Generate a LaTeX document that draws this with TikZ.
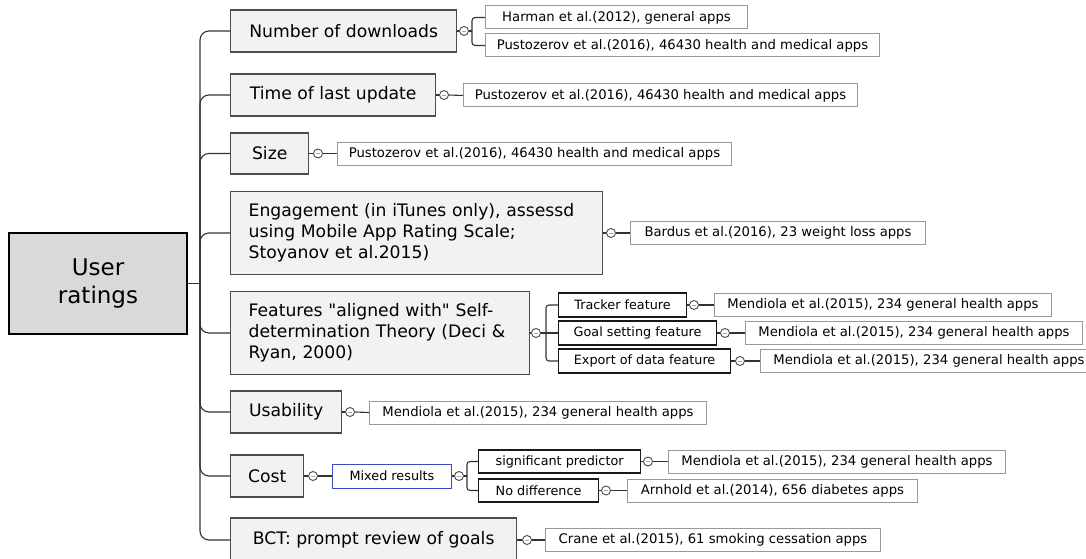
\documentclass[tikz,border=0pt]{standalone}
\usepackage{fontspec}
\setmainfont{DejaVu Sans}[Ligatures=TeXOff]
\definecolor{mixblue}{RGB}{60,72,190}
\definecolor{knobdash}{RGB}{150,165,200}
\begin{document}
\begin{tikzpicture}[x=1pt,y=-1pt]
\tikzset{
  rootbox/.style={draw=black, line width=2pt, fill=black!15, anchor=west,
    minimum width=178pt, minimum height=101pt, inner sep=0pt, align=center,
    font=\fontsize{23}{28}\selectfont},
  lvl/.style={draw=black!70, line width=1.4pt, fill=black!5, anchor=west,
    minimum height=42pt, inner xsep=0pt, inner ysep=0pt,
    font=\fontsize{17.2}{21}\selectfont},
  lvlwide/.style={lvl, inner xsep=18pt, align=left},
  src/.style={draw=black!40, line width=1pt, fill=white, anchor=west,
    minimum height=23pt, inner sep=0pt, font=\fontsize{13.2}{16}\selectfont},
  subbox/.style={draw=black!90, line width=1.2pt, fill=white, anchor=west,
    minimum height=24pt, inner sep=0pt, font=\fontsize{12.8}{15}\selectfont},
  mixbox/.style={subbox, draw=mixblue, line width=1pt},
  conn/.style={draw=black!80, line width=1.1pt},
  knob/.style={circle, draw=black!70, line width=0.9pt, fill=white,
    minimum size=9pt, inner sep=0pt,
    path picture={\draw[knobdash, line width=0.8pt]
      ([xshift=-2pt]path picture bounding box.center) --
      ([xshift=2pt]path picture bounding box.center);}},
}
\useasboundingbox (0,0) rectangle (1086,559);
\clip (0,0) rectangle (1086,559);

% root and first level
\node[rootbox] (root) at (8,283.5) {User\\ratings};
\node[lvl, minimum width=226pt] (n1) at (230,31) {Number of downloads};
\node[lvl, minimum width=205pt] (n2) at (230,95) {Time of last update};
\node[lvl, minimum width=78pt, minimum height=41pt] (n3) at (230,153.5) {Size};
\node[lvlwide, text width=336pt, minimum height=83pt] (n4) at (230,233)
  {Engagement (in iTunes only), assessd\\using Mobile App Rating Scale;\\Stoyanov et al.2015)};
\node[lvlwide, text width=263pt, minimum height=83pt] (n5) at (230,333)
  {Features "aligned with" Self-\\determination Theory (Deci \&\\Ryan, 2000)};
\node[lvl, minimum width=111pt] (n6) at (230,412) {Usability};
\node[lvl, minimum width=73pt] (n7) at (230,476) {Cost};
\node[lvl, minimum width=286pt, minimum height=44pt] (n8) at (230,540) {BCT: prompt review of goals};

\coordinate (t) at (200,283.5);
\draw[conn] (root.east) -- (t);
\foreach \n in {n1,n2,n3,n4,n5,n6,n7,n8}
  \draw[conn, rounded corners=9pt] (t) |- (\n.west);

% number of downloads
\node[knob] (k1) at (464,31) {};
\coordinate (b1) at (472,31);
\node[src, minimum width=262pt] (s1a) at (485,17.5) {Harman et al.(2012), general apps};
\node[src, minimum width=394pt] (s1b) at (485,45.5) {Pustozerov et al.(2016), 46430 health and medical apps};
\draw[conn] (n1.east) -- (k1.west);
\draw[conn] (k1.east) -- (b1);
\draw[conn, rounded corners=3pt] (b1) |- (s1a.west);
\draw[conn, rounded corners=3pt] (b1) |- (s1b.west);

% time of last update
\node[knob] (k2) at (444,95) {};
\node[src, minimum width=394pt] (s2) at (463,95.5) {Pustozerov et al.(2016), 46430 health and medical apps};
\draw[conn] (n2.east) -- (k2.west);
\draw[conn] (k2.east) -- (s2.west);

% size
\node[knob] (k3) at (318,153.5) {};
\node[src, minimum width=394pt] (s3) at (337,153.5) {Pustozerov et al.(2016), 46430 health and medical apps};
\draw[conn] (n3.east) -- (k3.west);
\draw[conn] (k3.east) -- (s3.west);

% engagement
\node[knob] (k4) at (611,233) {};
\node[src, minimum width=295pt] (s4) at (630,233) {Bardus et al.(2016), 23 weight loss apps};
\draw[conn] (n4.east) -- (k4.west);
\draw[conn] (k4.east) -- (s4.west);

% self-determination features
\node[knob] (k5) at (536,333) {};
\coordinate (b5) at (546,333);
\node[subbox, minimum width=128pt] (f1) at (558,305) {Tracker feature};
\node[subbox, minimum width=158pt] (f2) at (558,333) {Goal setting feature};
\node[subbox, minimum width=172pt] (f3) at (558,361) {Export of data feature};
\draw[conn] (n5.east) -- (k5.west);
\draw[conn] (k5.east) -- (b5);
\draw[conn, rounded corners=3pt] (b5) |- (f1.west);
\draw[conn] (b5) -- (f2.west);
\draw[conn, rounded corners=3pt] (b5) |- (f3.west);

\node[knob] (kf1) at (694,305) {};
\node[src, minimum width=337pt] (sf1) at (714,305) {Mendiola et al.(2015), 234 general health apps};
\node[knob] (kf2) at (725,333) {};
\node[src, minimum width=337pt] (sf2) at (745,333) {Mendiola et al.(2015), 234 general health apps};
\node[knob] (kf3) at (740,361) {};
\node[src, minimum width=337pt] (sf3) at (760,361) {Mendiola et al.(2015), 234 general health apps};
\draw[conn] (f1.east) -- (kf1.west);
\draw[conn] (kf1.east) -- (sf1.west);
\draw[conn] (f2.east) -- (kf2.west);
\draw[conn] (kf2.east) -- (sf2.west);
\draw[conn] (f3.east) -- (kf3.west);
\draw[conn] (kf3.east) -- (sf3.west);

% usability
\node[knob] (k6) at (350,412) {};
\node[src, minimum width=337pt] (s6) at (369,412.5) {Mendiola et al.(2015), 234 general health apps};
\draw[conn] (n6.east) -- (k6.west);
\draw[conn] (k6.east) -- (s6.west);

% cost
\node[knob] (k7) at (313,476) {};
\node[mixbox, minimum width=119pt] (mix) at (332,476) {Mixed results};
\node[knob] (k7b) at (459,476) {};
\coordinate (b7) at (467,476);
\node[subbox, minimum width=162pt, minimum height=23pt] (sig) at (478,461.5) {significant predictor};
\node[subbox, minimum width=120pt, minimum height=23pt] (nod) at (478,490.5) {No difference};
\draw[conn] (n7.east) -- (k7.west);
\draw[conn] (k7.east) -- (mix.west);
\draw[conn] (mix.east) -- (k7b.west);
\draw[conn] (k7b.east) -- (b7);
\draw[conn, rounded corners=3pt] (b7) |- (sig.west);
\draw[conn, rounded corners=3pt] (b7) |- (nod.west);

\node[knob] (ksig) at (648,461.5) {};
\node[src, minimum width=337pt] (ssig) at (668,461.5) {Mendiola et al.(2015), 234 general health apps};
\node[knob] (knod) at (606,490.5) {};
\node[src, minimum width=290pt] (snod) at (627,490.5) {Arnhold et al.(2014), 656 diabetes apps};
\draw[conn] (sig.east) -- (ksig.west);
\draw[conn] (ksig.east) -- (ssig.west);
\draw[conn] (nod.east) -- (knod.west);
\draw[conn] (knod.east) -- (snod.west);

% behaviour change technique
\node[knob] (k8) at (527,540) {};
\node[src, minimum width=335pt] (s8) at (545,540) {Crane et al.(2015), 61 smoking cessation apps};
\draw[conn] (n8.east) -- (k8.west);
\draw[conn] (k8.east) -- (s8.west);
\end{tikzpicture}
\end{document}
